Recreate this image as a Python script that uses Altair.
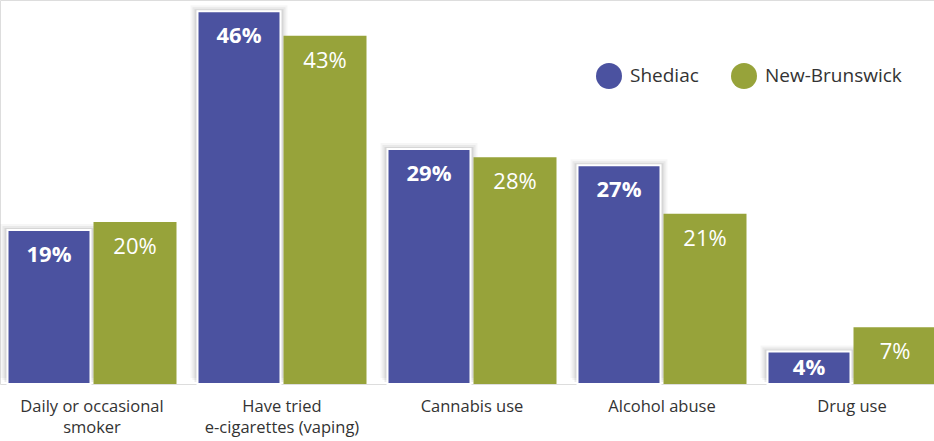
import altair as alt
import pandas as pd

categories = ["Daily or occasional|smoker", "Have tried|e-cigarettes (vaping)", "Cannabis use", "Alcohol abuse", "Drug use"]
series = ["Shediac", "New-Brunswick"]
shediac = [19, 46, 29, 27, 4]
nb = [20, 43, 28, 21, 7]
colors = ["#4B52A0", "#97A33A"]

rows = []
for c, s, n in zip(categories, shediac, nb):
    rows.append({"cat": c, "series": "Shediac", "value": s, "label": f"{s}%"})
    rows.append({"cat": c, "series": "New-Brunswick", "value": n, "label": f"{n}%"})
df = pd.DataFrame(rows)

FONT = "Open Sans"

x = alt.X("cat:N", sort=categories, scale=alt.Scale(range=[-3, 947], paddingInner=0, paddingOuter=0),
          axis=alt.Axis(title=None, labelAngle=0, domain=False, ticks=False, labelPadding=14,
                        labelFontSize=16.5, labelColor="#333333", labelFont=FONT, labelLineHeight=21,
                        labelBaseline="top",
                        labelExpr="split(datum.label, '|')"))
xo = alt.XOffset("series:N", sort=series, scale=alt.Scale(range=[9, 181], paddingInner=0, paddingOuter=0))
yscale = alt.Scale(domain=[0, 47.4])
y = alt.Y("value:Q", scale=yscale, axis=None)
color = alt.Color("series:N", sort=series, scale=alt.Scale(domain=series, range=colors),
                  legend=alt.Legend(title=None, orient="none", legendX=596, legendY=63, direction="horizontal",
                                    symbolType="circle", symbolSize=676, symbolStrokeWidth=0,
                                    labelFontSize=19, labelFont=FONT, labelColor="#333333",
                                    columnPadding=32, symbolOffset=0, labelOffset=8))

base = alt.Chart(df).encode(x=x, xOffset=xo, y=y)

shed = alt.datum.series == "Shediac"

shadows = []
for i, (w, op, dx, dy) in enumerate([(97, 0.05, -5, -6), (93, 0.08, -3, -4), (89, 0.12, -2, -2)]):
    shadows.append(base.transform_filter(shed).mark_bar(width=w, color="#555555", opacity=op, xOffset=dx, yOffset=dy))

bars = base.mark_bar(width=83).encode(
    color=color,
    stroke=alt.condition(shed, alt.value("white"), alt.value(None)),
    strokeWidth=alt.condition(shed, alt.value(2), alt.value(0)),
)

lab_base = alt.Chart(df).transform_calculate(
    ypos="max(datum.value - 3.1, 2.0)"
).encode(x=x, xOffset=xo, y=alt.Y("ypos:Q", scale=yscale, axis=None), text="label:N")

lab_s = lab_base.transform_filter(shed).mark_text(color="white", fontSize=22, fontWeight="bold", font=FONT,
                                                 baseline="middle")
lab_n = lab_base.transform_filter(alt.datum.series == "New-Brunswick").mark_text(
    color="white", fontSize=22, font=FONT, baseline="middle")

chart = alt.layer(*shadows, bars, lab_s, lab_n).properties(
    width=934, height=384,
    autosize=alt.AutoSizeParams(type="none"),
    padding={"left": 0, "top": 0, "right": 0, "bottom": 57},
).configure_view(stroke=None).configure(background="white")

chart.save("out.html", embed_options={"renderer": "svg", "actions": False})
